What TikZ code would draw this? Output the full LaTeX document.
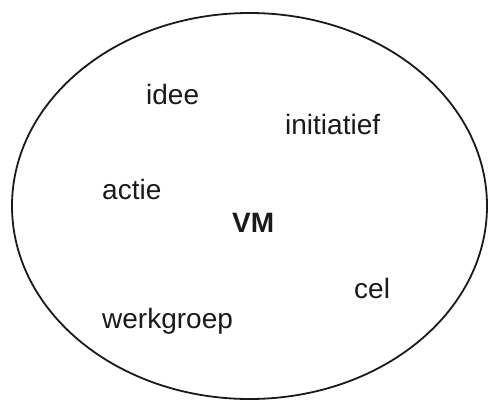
\documentclass[tikz,border=0pt]{standalone}
\usepackage{fontspec}
\setmainfont{Liberation Sans}
\usepackage{tikz}
\usetikzlibrary{positioning,shapes}
\definecolor{vmInk}{HTML}{1A1A1A}
\tikzset{
    vmWord/.style={
        anchor=base west,
        inner sep=0pt,
        text=vmInk,
        font=\fontsize{28}{34}\selectfont
    },
    vmCore/.style={vmWord, font=\fontsize{28}{34}\selectfont\bfseries},
    vmRing/.style={draw=vmInk, line width=1.8pt}
}
\begin{document}
\begin{tikzpicture}[x=1pt, y=-1pt]
\useasboundingbox (0,0) rectangle (489,401);
% outer ring
\draw[vmRing] (249.5,206) ellipse [x radius=237.5, y radius=193];
% words
\node[vmWord] (idee) at (146,104) {idee};
\node[vmWord] (init) at (285,134) {initiatief};
\node[vmWord] (actie) at (102,199) {actie};
\node[vmCore] (vm) at (232,232) {VM};
\node[vmWord] (cel) at (354,298) {cel};
\node[vmWord] (werk) at (102,328) {werkgroep};
\end{tikzpicture}
\end{document}
